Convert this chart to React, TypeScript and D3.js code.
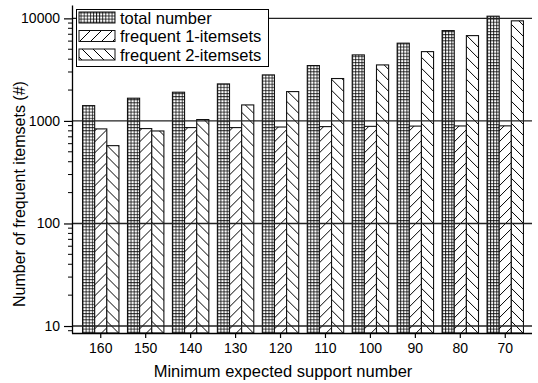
import React, { useRef, useEffect } from "react";
import * as d3 from "d3";

const categories = ["160", "150", "140", "130", "120", "110", "100", "90", "80", "70"];
const totalNumber = [1410, 1665, 1905, 2296, 2810, 3466, 4403, 5730, 7600, 10500];
const frequent1 = [836, 842, 861, 861, 872, 880, 885, 890, 893, 895];
const frequent2 = [574, 798, 1031, 1432, 1932, 2590, 3516, 4740, 6790, 9460];
const seriesNames = ["total number", "frequent 1-itemsets", "frequent 2-itemsets"];
const yTicks = [10, 100, 1000, 10000];

const App = () => {
  const svgRef = useRef<SVGSVGElement>(null);

  useEffect(() => {
    const svg = d3.select(svgRef.current);
    svg.selectAll("*").remove();

    const font = "Liberation Sans, Arial, sans-serif";
    const left = 72;
    const right = 532;
    const bottom = 333;

    const x = d3.scaleBand().domain(categories).range([74, right]).padding(0.19);
    const sub = d3.scaleBand().domain(seriesNames).range([0, x.bandwidth()]);
    const y = d3.scaleLog().domain([8.55, 13500]).range([bottom, 5]);

    // fill patterns
    const defs = svg.append("defs");
    const grid = defs
      .append("pattern")
      .attr("id", "p-grid")
      .attr("patternUnits", "userSpaceOnUse")
      .attr("width", 3.1)
      .attr("height", 3.1);
    grid.append("rect").attr("width", 3.1).attr("height", 3.1).attr("fill", "#fff");
    grid
      .append("path")
      .attr("d", "M0.5,0 V3.1 M0,0.5 H3.1")
      .attr("stroke", "#000")
      .attr("stroke-width", 0.8);

    const s = 11;
    const mkDiag = (id: string, d: string) => {
      const p = defs
        .append("pattern")
        .attr("id", id)
        .attr("patternUnits", "userSpaceOnUse")
        .attr("width", s)
        .attr("height", s);
      p.append("rect").attr("width", s).attr("height", s).attr("fill", "#fff");
      p.append("path").attr("d", d).attr("stroke", "#000").attr("stroke-width", 1);
    };
    mkDiag(
      "p-fwd",
      `M0,${s} L${s},0 M${-s / 2},${s / 2} L${s / 2},${-s / 2} M${s / 2},${s * 1.5} L${s * 1.5},${s / 2}`
    );
    mkDiag(
      "p-back",
      `M0,0 L${s},${s} M${-s / 2},${s / 2} L${s / 2},${s * 1.5} M${s / 2},${-s / 2} L${s * 1.5},${s / 2}`
    );
    const fills = ["url(#p-grid)", "url(#p-fwd)", "url(#p-back)"];
    const seriesValues = [totalNumber, frequent1, frequent2];

    // bars
    const rows = categories.map((c, i) => ({
      c,
      vals: seriesNames.map((n, k) => ({ n, k, v: seriesValues[k][i] })),
    }));
    svg
      .append("g")
      .selectAll("g")
      .data(rows)
      .join("g")
      .attr("transform", (d) => `translate(${x(d.c)},0)`)
      .selectAll("rect")
      .data((d) => d.vals)
      .join("rect")
      .attr("x", (d) => sub(d.n)!)
      .attr("y", (d) => y(d.v))
      .attr("width", sub.bandwidth())
      .attr("height", (d) => bottom - y(d.v))
      .attr("fill", (d) => fills[d.k])
      .attr("stroke", "#111")
      .attr("stroke-width", 1.1);

    // gridlines, drawn over the bars
    svg
      .append("g")
      .selectAll("line")
      .data(yTicks)
      .join("line")
      .attr("x1", left)
      .attr("x2", right)
      .attr("y1", (d) => y(d))
      .attr("y2", (d) => y(d))
      .attr("stroke", "#222")
      .attr("stroke-width", 1.4);

    // left axis
    const yAxis = svg
      .append("g")
      .attr("transform", `translate(${left},0)`)
      .call(
        d3
          .axisLeft(y)
          .tickValues(yTicks)
          .tickFormat((d) => String(d))
          .tickSizeInner(8)
          .tickSizeOuter(0)
          .tickPadding(4)
      );
    yAxis.select(".domain").attr("stroke", "#000").attr("stroke-width", 1.3);
    yAxis.selectAll(".tick line").attr("stroke", "#000").attr("stroke-width", 1.2);
    yAxis
      .selectAll(".tick text")
      .attr("font-family", font)
      .attr("font-size", 14)
      .attr("fill", "#000");

    const minor: number[] = [9];
    [10, 100, 1000, 10000].forEach((dec) => {
      for (let m = 2; m <= 9; m++) {
        const v = dec * m;
        if (v <= 13500) minor.push(v);
      }
    });
    svg
      .append("g")
      .selectAll("line")
      .data(minor)
      .join("line")
      .attr("x1", left - 4)
      .attr("x2", left)
      .attr("y1", (d) => y(d))
      .attr("y2", (d) => y(d))
      .attr("stroke", "#000")
      .attr("stroke-width", 1);

    // bottom axis
    const xAxis = svg
      .append("g")
      .attr("transform", `translate(0,${bottom})`)
      .call(d3.axisBottom(x).tickSizeInner(5).tickSizeOuter(0).tickPadding(5));
    xAxis
      .select(".domain")
      .attr("d", `M${left},0.5H${right}`)
      .attr("stroke", "#000")
      .attr("stroke-width", 1.3);
    xAxis.selectAll(".tick line").attr("stroke", "#000").attr("stroke-width", 1.2);
    xAxis
      .selectAll(".tick text")
      .attr("font-family", font)
      .attr("font-size", 14)
      .attr("fill", "#000");

    // axis titles
    svg
      .append("text")
      .attr("x", 283)
      .attr("y", 377)
      .attr("text-anchor", "middle")
      .attr("font-family", font)
      .attr("font-size", 16.5)
      .text("Minimum expected support number");

    svg
      .append("text")
      .attr("transform", `translate(25,194) rotate(-90)`)
      .attr("text-anchor", "middle")
      .attr("font-family", font)
      .attr("font-size", 16)
      .text("Number of frequent itemsets (#)");

    // legend
    const lg = svg.append("g");
    lg.append("rect")
      .attr("x", 76.5)
      .attr("y", 9.5)
      .attr("width", 192)
      .attr("height", 57)
      .attr("fill", "#fff")
      .attr("stroke", "#000")
      .attr("stroke-width", 1);
    seriesNames.forEach((n, k) => {
      const cy = 17.5 + k * 18.5;
      lg.append("rect")
        .attr("x", 79)
        .attr("y", cy - 5.5)
        .attr("width", 36)
        .attr("height", 11)
        .attr("fill", fills[k])
        .attr("stroke", "#111")
        .attr("stroke-width", 1);
      lg.append("text")
        .attr("x", 120)
        .attr("y", cy + 6)
        .attr("font-family", font)
        .attr("font-size", 16.5)
        .text(n);
    });
  }, []);

  return (
    <svg
      ref={svgRef}
      width={538}
      height={383}
      style={{ position: "fixed", left: 0, top: 0, background: "#fff" }}
    />
  );
};

export default App;
